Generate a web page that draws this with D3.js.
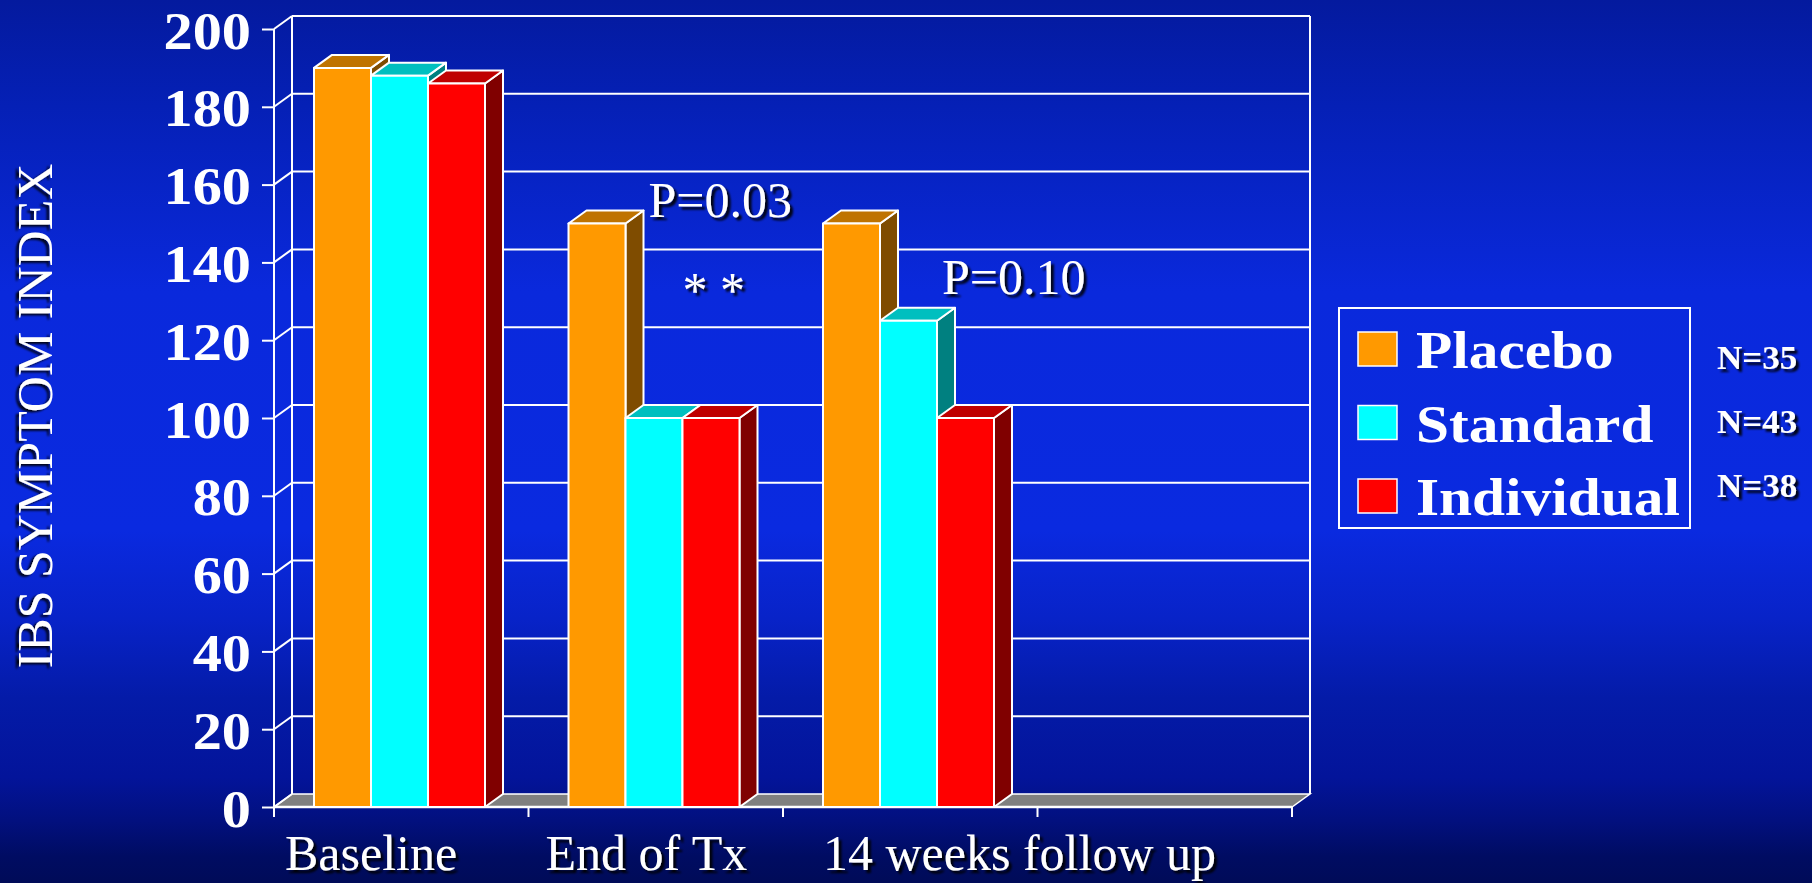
<!DOCTYPE html>
<html>
<head>
<meta charset="utf-8">
<script src="https://cdn.jsdelivr.net/npm/d3@7"></script>
<style>
  html, body { margin: 0; padding: 0; overflow: hidden; background: #0a2ae0; }
  svg { display: block; }
</style>
</head>
<body>
<svg id="chart" width="1812" height="883"></svg>
<script>
// ---- data ----
const categories = ["Baseline", "End of Tx", "14 weeks follow up", ""];
const seriesNames = ["Placebo", "Standard", "Individual"];
const placebo = [190, 150, 150];
const standard = [188, 100, 125];
const individual = [186, 100, 100];
const sampleSizes = ["N=35", "N=43", "N=38"];
const yTicks = [0, 20, 40, 60, 80, 100, 120, 140, 160, 180, 200];
const yTitle = "IBS SYMPTOM INDEX";
const pValues = ["P=0.03", "P=0.10"];
const significance = "* *";

const seriesValues = { Placebo: placebo, Standard: standard, Individual: individual };

// ---- layout & style ----
const W = 1812, H = 883;
const DX = 18, DY = 13;               // depth offset of the 3D frame
const serif = "'Liberation Serif', 'Times New Roman', Times, serif";
const colors = {
  Placebo:    { front: "#ff9900", top: "#bf7300", side: "#7f4c00" },
  Standard:   { front: "#00ffff", top: "#00bfbf", side: "#008080" },
  Individual: { front: "#ff0000", top: "#bf0000", side: "#800000" }
};
const labelOffsets = [11, 17, 40];    // category label start, from band start

const svg = d3.select("#chart");
const defs = svg.append("defs");

// background gradient
const grad = defs.append("linearGradient")
  .attr("id", "bg").attr("x1", 0).attr("y1", 0).attr("x2", 0).attr("y2", 1);
[[0, "#041a9e"], [0.12, "#0520b6"], [0.33, "#0a29dc"], [0.6, "#0a2ae0"],
 [0.7, "#0823c8"], [0.79, "#041ba8"], [0.88, "#03149a"], [0.93, "#02107e"],
 [0.97, "#000c62"], [1, "#000b58"]]
  .forEach(([o, c]) => grad.append("stop").attr("offset", o).attr("stop-color", c));

const shadow = defs.append("filter").attr("id", "shadow")
  .attr("x", "-10%").attr("y", "-20%").attr("width", "130%").attr("height", "150%");
shadow.append("feDropShadow").attr("dx", 3).attr("dy", 3)
  .attr("stdDeviation", 1.2).attr("flood-color", "#000").attr("flood-opacity", 0.9);

const shadowLeft = defs.append("filter").attr("id", "shadowLeft")
  .attr("x", "-30%").attr("y", "-10%").attr("width", "160%").attr("height", "120%");
shadowLeft.append("feDropShadow").attr("dx", -3).attr("dy", 2)
  .attr("stdDeviation", 1.2).attr("flood-color", "#000").attr("flood-opacity", 0.9);

svg.append("rect").attr("width", W).attr("height", H).attr("fill", "url(#bg)");

// ---- scales ----
const y = d3.scaleLinear().domain([0, 200]).range([807, 29]);
const x = d3.scaleBand().domain(categories).range([274, 1292]).padding(0);
const xi = d3.scaleBand().domain(seriesNames).range([40, 211]).padding(0);

const x0 = x.range()[0], x1 = x.range()[1];
const frame = svg.append("g").attr("stroke", "#fff").attr("fill", "none")
  .attr("stroke-width", 2);

// floor
frame.append("path")
  .attr("d", `M${x0},${y(0)} L${x0 + DX},${y(0) - DY} L${x1 + DX},${y(0) - DY} L${x1},${y(0)} Z`)
  .attr("fill", "#808080").attr("stroke-width", 1.5);

// back-wall gridlines and side-wall connectors
yTicks.forEach(v => {
  if (v > 0) {
    frame.append("line")
      .attr("x1", x0 + DX).attr("x2", x1 + DX)
      .attr("y1", y(v) - DY).attr("y2", y(v) - DY);
  }
  frame.append("line")
    .attr("x1", x0).attr("y1", y(v))
    .attr("x2", x0 + DX).attr("y2", y(v) - DY);
});
// back-wall edges
frame.append("line").attr("x1", x0 + DX).attr("x2", x0 + DX)
  .attr("y1", y(200) - DY).attr("y2", y(0) - DY);
frame.append("line").attr("x1", x1 + DX).attr("x2", x1 + DX)
  .attr("y1", y(200) - DY).attr("y2", y(0) - DY);

// ---- y axis ----
const yAxis = d3.axisLeft(y).tickValues(yTicks).tickSize(12).tickSizeOuter(0).tickPadding(11);
const yg = svg.append("g").attr("transform", `translate(${x0},0)`).call(yAxis);
yg.select(".domain").remove();
yg.selectAll(".tick line").attr("stroke", "#fff").attr("stroke-width", 2);
yg.selectAll(".tick text")
  .attr("fill", "#fff")
  .attr("font-family", serif).attr("font-weight", "bold").attr("font-size", 53)
  .attr("text-anchor", "end")
  .attr("x", -23 / 1.1).attr("dy", null).attr("y", 19)
  .attr("transform", "scale(1.1,1)");
svg.append("line").attr("x1", x0).attr("x2", x0)
  .attr("y1", y(200)).attr("y2", y(0) + 10)
  .attr("stroke", "#fff").attr("stroke-width", 2);

// ---- x axis ----
const boundaries = categories.map(c => x(c)).concat([x1]);
svg.append("line").attr("x1", x0).attr("x2", x1)
  .attr("y1", y(0)).attr("y2", y(0))
  .attr("stroke", "#fff").attr("stroke-width", 2.5);
svg.selectAll(".xtick").data(boundaries).join("line").attr("class", "xtick")
  .attr("x1", d => d).attr("x2", d => d)
  .attr("y1", y(0)).attr("y2", y(0) + 10)
  .attr("stroke", "#fff").attr("stroke-width", 2);

// ---- bars ----
const barData = [];
categories.forEach((c, i) => {
  seriesNames.forEach(s => {
    const v = seriesValues[s][i];
    if (v !== undefined) barData.push({ cat: c, series: s, value: v });
  });
});
const bars = svg.append("g").attr("stroke", "#fff").attr("stroke-width", 2)
  .attr("stroke-linejoin", "round");
barData.forEach(d => {
  const bx = x(d.cat) + xi(d.series);
  const bw = xi.bandwidth();
  const top = y(d.value), base = y(0);
  const g = bars.append("g");
  g.append("path") // side face
    .attr("d", `M${bx + bw},${top} L${bx + bw + DX},${top - DY} L${bx + bw + DX},${base - DY} L${bx + bw},${base} Z`)
    .attr("fill", colors[d.series].side);
  g.append("path") // top face
    .attr("d", `M${bx},${top} L${bx + DX},${top - DY} L${bx + bw + DX},${top - DY} L${bx + bw},${top} Z`)
    .attr("fill", colors[d.series].top);
  g.append("rect") // front face
    .attr("x", bx).attr("y", top).attr("width", bw).attr("height", base - top)
    .attr("fill", colors[d.series].front);
});

// ---- category labels ----
const shadowed = svg.append("g").attr("filter", "url(#shadow)").attr("fill", "#fff")
  .attr("font-family", serif);
shadowed.selectAll(".cat").data(categories.filter(c => c)).join("text").attr("class", "cat")
  .attr("x", (c, i) => x(c) + labelOffsets[i]).attr("y", 870)
  .attr("font-size", 50).text(c => c);

// ---- annotations ----
shadowed.append("text").attr("x", x("End of Tx") + 120).attr("y", 217)
  .attr("font-size", 50).text(pValues[0]);
shadowed.append("text").attr("x", x("14 weeks follow up") + 159).attr("y", 294)
  .attr("font-size", 50).text(pValues[1]);
shadowed.append("text").attr("x", x("End of Tx") + 154).attr("y", 307)
  .attr("font-size", 50).attr("xml:space", "preserve").text(significance);

// ---- y title ----
svg.append("g").attr("filter", "url(#shadowLeft)")
  .append("text")
  .attr("transform", "translate(52,416) rotate(-90)")
  .attr("text-anchor", "middle").attr("fill", "#fff")
  .attr("font-family", serif).attr("font-size", 50)
  .text(yTitle);

// ---- legend ----
const lg = svg.append("g");
lg.append("rect").attr("x", 1339).attr("y", 308).attr("width", 351).attr("height", 220)
  .attr("fill", "none").attr("stroke", "#fff").attr("stroke-width", 2);
seriesNames.forEach((s, i) => {
  const rowY = 332 + i * 73.5;
  lg.append("rect").attr("x", 1358).attr("y", rowY).attr("width", 39).attr("height", 34)
    .attr("fill", colors[s].front).attr("stroke", "#fff").attr("stroke-width", 1.5);
  lg.append("text")
    .attr("transform", `translate(1416,${rowY + 36}) scale(1.12,1)`)
    .attr("fill", "#fff").attr("font-family", serif).attr("font-weight", "bold")
    .attr("font-size", 53).text(s);
});
const ng = svg.append("g").attr("filter", "url(#shadow)");
sampleSizes.forEach((n, i) => {
  ng.append("text")
    .attr("transform", `translate(1717,${369 + i * 64}) scale(1.03,1)`)
    .attr("fill", "#fff").attr("font-family", serif).attr("font-weight", "bold")
    .attr("font-size", 34).text(n);
});
</script>
</body>
</html>
